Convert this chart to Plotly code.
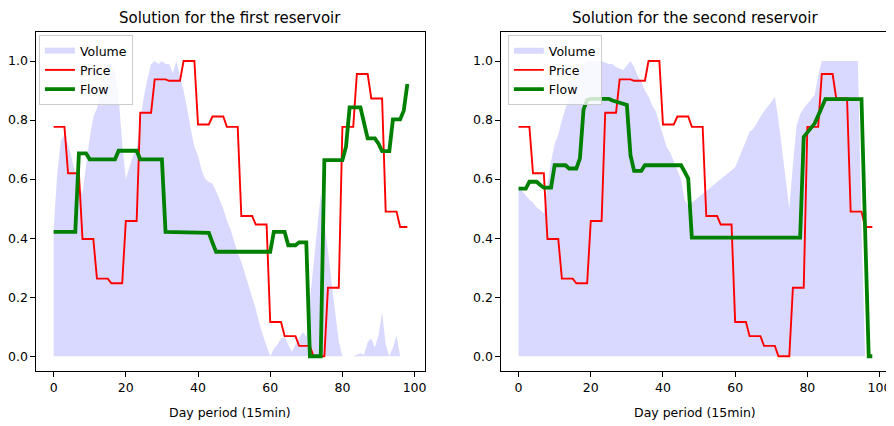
import plotly.graph_objects as go

period = list(range(99))

price = [0.777, 0.777, 0.777, 0.777, 0.62, 0.62, 0.62, 0.62,
         0.397, 0.397, 0.397, 0.397, 0.263, 0.263, 0.263, 0.263,
         0.247, 0.247, 0.247, 0.247, 0.458, 0.458, 0.458, 0.458,
         0.825, 0.825, 0.825, 0.825, 0.938, 0.938, 0.938, 0.938,
         0.933, 0.933, 0.933, 0.933, 1.0, 1.0, 1.0, 1.0,
         0.785, 0.785, 0.785, 0.785, 0.812, 0.812, 0.812, 0.812,
         0.777, 0.777, 0.777, 0.777, 0.475, 0.475, 0.475, 0.475,
         0.446, 0.446, 0.446, 0.446, 0.116, 0.116, 0.116, 0.116,
         0.068, 0.068, 0.068, 0.068, 0.035, 0.035, 0.035, 0.035,
         0.0, 0.0, 0.0, 0.0, 0.232, 0.232, 0.232, 0.232,
         0.777, 0.777, 0.777, 0.777, 0.956, 0.956, 0.956, 0.956,
         0.873, 0.873, 0.873, 0.873, 0.49, 0.49, 0.49, 0.49,
         0.438, 0.438, 0.438]

volume_1 = [0.43, 0.62, 0.73, 0.75, 0.72, 0.67, 0.62, 0.58, 0.55, 0.65,
            0.74, 0.81, 0.84, 0.9, 0.96, 0.99, 0.99, 0.96, 0.88, 0.72,
            0.6, 0.64, 0.68, 0.7, 0.8, 0.88, 0.94, 0.99, 1.0, 0.99,
            1.0, 0.99, 0.99, 0.96, 1.0, 0.95, 0.9, 0.84, 0.77, 0.71,
            0.68, 0.63, 0.6, 0.59, 0.585, 0.56, 0.53, 0.5, 0.46, 0.43,
            0.39, 0.35, 0.32, 0.28, 0.24, 0.2, 0.16, 0.11, 0.07, 0.035,
            0.0, 0.025, 0.04, 0.06, 0.065, 0.04, 0.015, 0.04, 0.06, 0.082,
            0.065, 0.19, 0.31, 0.43, 0.55, 0.45, 0.36, 0.25, 0.15, 0.05,
            0.0, 0.0, 0.0, 0.0, 0.005, 0.01, 0.005, 0.048, 0.06, 0.03,
            0.07, 0.15, 0.04, 0.0, 0.03, 0.07, 0.0, 0.0, 0.0]

flow_1 = [0.421, 0.421, 0.421, 0.421, 0.421, 0.421, 0.421,
          0.687, 0.687, 0.687,
          0.667, 0.667, 0.667, 0.667, 0.667, 0.667, 0.667, 0.667,
          0.696, 0.696, 0.696, 0.696, 0.696, 0.696,
          0.667, 0.667, 0.667, 0.667, 0.667, 0.667, 0.667,
          0.421, 0.421, 0.421, 0.421, 0.421, 0.421, 0.421, 0.421,
          0.418, 0.418, 0.418, 0.418, 0.418,
          0.385,
          0.354, 0.354, 0.354, 0.354, 0.354, 0.354, 0.354, 0.354,
          0.354, 0.354, 0.354, 0.354, 0.354, 0.354, 0.354, 0.354,
          0.421, 0.421, 0.421, 0.421,
          0.376, 0.376, 0.376,
          0.386, 0.386, 0.386,
          0.0, 0.0, 0.0, 0.0,
          0.664, 0.664, 0.664, 0.664, 0.664, 0.664,
          0.71,
          0.843, 0.843, 0.843, 0.843,
          0.79,
          0.738, 0.738, 0.738,
          0.72,
          0.695, 0.695, 0.695,
          0.802, 0.802, 0.802,
          0.832, 0.922]

volume_2 = [0.574, 0.56, 0.545, 0.53, 0.52, 0.505, 0.495, 0.484, 0.58, 0.66,
            0.72, 0.75, 0.8, 0.84, 0.88, 0.92, 0.95, 0.97, 0.99, 1.0,
            1.0, 1.0, 1.0, 1.0, 0.995, 0.99, 0.99, 0.98, 0.975, 0.97,
            0.985, 1.0, 0.98, 0.95, 0.93, 0.9, 0.88, 0.85, 0.83, 0.79,
            0.75, 0.71, 0.69, 0.66, 0.63, 0.6, 0.53, 0.51, 0.52, 0.53,
            0.54, 0.55, 0.56, 0.57, 0.58, 0.59, 0.6, 0.61, 0.62, 0.63,
            0.64, 0.67, 0.7, 0.73, 0.76, 0.77, 0.79, 0.81, 0.83, 0.845,
            0.86, 0.88, 0.8, 0.7, 0.6, 0.5, 0.65, 0.78, 0.82, 0.84,
            0.855, 0.87, 0.885, 0.95, 1.0, 1.0, 1.0, 1.0, 1.0, 1.0,
            1.0, 1.0, 1.0, 1.0, 1.0, 0.45, 0.0, 0.0, 0.0]

flow_2 = [0.568, 0.568, 0.568,
          0.591, 0.591, 0.591,
          0.58,
          0.571, 0.571, 0.571,
          0.647, 0.647, 0.647, 0.647,
          0.636, 0.636, 0.636,
          0.67, 0.836, 0.868,
          0.872, 0.872, 0.872, 0.872, 0.872, 0.872,
          0.866, 0.862, 0.858, 0.855, 0.851,
          0.681,
          0.628, 0.628, 0.628,
          0.647, 0.647, 0.647, 0.647, 0.647, 0.647, 0.647, 0.647,
          0.647, 0.647, 0.647,
          0.625, 0.602,
          0.402, 0.402, 0.402, 0.402, 0.402, 0.402, 0.402, 0.402,
          0.402, 0.402, 0.402, 0.402, 0.402, 0.402, 0.402, 0.402,
          0.402, 0.402, 0.402, 0.402, 0.402, 0.402, 0.402, 0.402,
          0.402, 0.402, 0.402, 0.402, 0.402, 0.402, 0.402,
          0.743, 0.757, 0.771, 0.788, 0.815, 0.845,
          0.871, 0.871, 0.871, 0.871, 0.871, 0.871, 0.871, 0.871,
          0.871, 0.871, 0.871,
          0.43, 0.0, 0.0]

titles = ["Solution for the first reservoir", "Solution for the second reservoir"]
x_label = "Day period (15min)"
x_ticks = [0, 20, 40, 60, 80, 100]
y_ticks = [0.0, 0.2, 0.4, 0.6, 0.8, 1.0]

# The page body has an 8px margin; positions below are screen pixels minus it.
OFF = 8
W, H = 894 - OFF, 426 - OFF
FONT = "DejaVu Sans"


def px(x):
    return (x - OFF) / W


def py(y):
    return (H - (y - OFF)) / H


dom1 = [px(35), px(425)]
dom2 = [px(501), px(891)]
ydom = [py(371), py(31.5)]

fig = go.Figure()

panels = [(volume_1, flow_1, "x", "y", "legend", dom1),
          (volume_2, flow_2, "x2", "y2", "legend2", dom2)]

for vol, flow, xa, ya, lg, dom in panels:
    fig.add_trace(go.Scatter(x=period, y=vol, name="Volume", mode="none",
                             fill="tozeroy", fillcolor="rgba(0,0,255,0.15)",
                             xaxis=xa, yaxis=ya, legend=lg))
    fig.add_trace(go.Scatter(x=period, y=price, name="Price", mode="lines",
                             line=dict(color="red", width=1.9),
                             xaxis=xa, yaxis=ya, legend=lg))
    fig.add_trace(go.Scatter(x=period, y=flow, name="Flow", mode="lines",
                             line=dict(color="green", width=3.8),
                             xaxis=xa, yaxis=ya, legend=lg))

axis_common = dict(showline=True, mirror=True, linecolor="black", linewidth=1,
                   ticks="outside", ticklen=4.5, tickcolor="black", tickwidth=1,
                   showgrid=False, zeroline=False,
                   tickfont=dict(family=FONT, size=12.5, color="black"))

xcommon = dict(axis_common, range=[-4.9, 102.9], tickvals=x_ticks,
               ticktext=[str(t) for t in x_ticks])
ycommon = dict(axis_common, range=[-0.05, 1.1], tickvals=y_ticks,
               ticktext=["%.1f" % t for t in y_ticks])

legend_common = dict(bgcolor="rgba(255,255,255,0.8)", bordercolor="#cccccc",
                     borderwidth=1, font=dict(family=FONT, size=12.5, color="black"),
                     xanchor="left", yanchor="top", tracegroupgap=0)

annotations = []
for t, dom in zip(titles, [dom1, dom2]):
    cx = (dom[0] + dom[1]) / 2
    annotations.append(dict(text=t, x=cx, y=py(18), xref="paper", yref="paper",
                            showarrow=False, xanchor="center", yanchor="middle",
                            font=dict(family=FONT, size=15, color="black")))
    annotations.append(dict(text=x_label, x=cx, y=py(412), xref="paper", yref="paper",
                            showarrow=False, xanchor="center", yanchor="middle",
                            font=dict(family=FONT, size=12.5, color="black")))

fig.update_layout(
    width=W, height=H,
    margin=dict(l=0, r=0, t=0, b=0),
    paper_bgcolor="white", plot_bgcolor="white",
    font=dict(family=FONT, color="black"),
    xaxis=dict(xcommon, domain=dom1, anchor="y"),
    yaxis=dict(ycommon, domain=ydom, anchor="x"),
    xaxis2=dict(xcommon, domain=dom2, anchor="y2"),
    yaxis2=dict(ycommon, domain=ydom, anchor="x2"),
    legend=dict(legend_common, x=px(38), y=py(35)),
    legend2=dict(legend_common, x=px(508), y=py(35)),
    annotations=annotations,
    showlegend=True,
)

fig.write_html("out.html")
